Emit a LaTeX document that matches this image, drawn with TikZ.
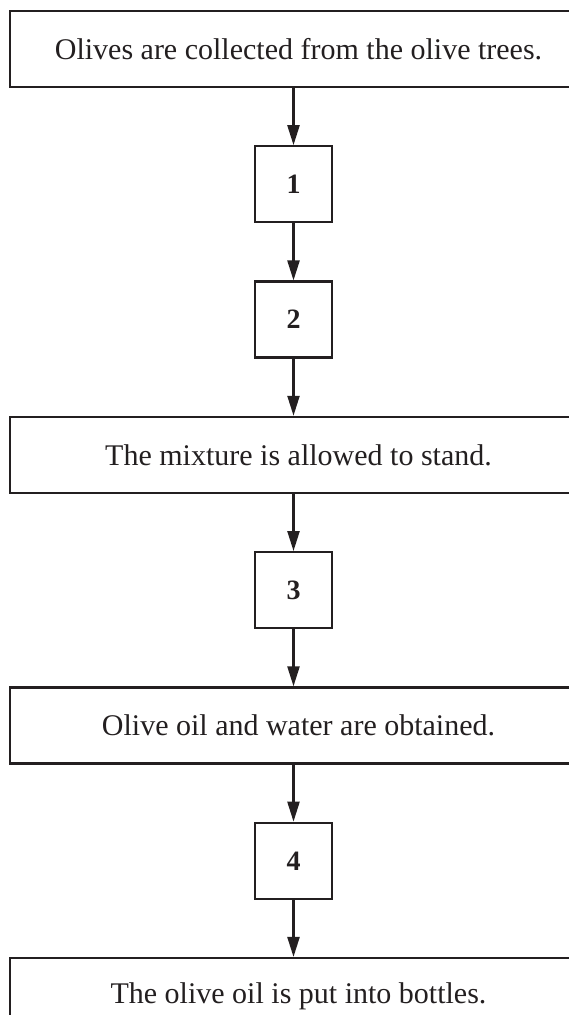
\documentclass[tikz,border=0pt]{standalone}
\usepackage{fontspec}
\setmainfont{Liberation Serif}
\usetikzlibrary{positioning,arrows.meta}
\definecolor{inkline}{RGB}{35,31,32}

\begin{document}
\begin{tikzpicture}[x=1pt, y=-1pt,
      node distance=57pt,
      stage/.style={draw=inkline, line width=2.3pt, minimum width=577pt,
        minimum height=76pt, inner sep=0pt, text=inkline,
        font=\fontsize{30}{34}\selectfont},
      numbox/.style={draw=inkline, line width=2.3pt, minimum width=77pt,
        minimum height=76pt, inner sep=0pt, text=inkline,
        font=\fontsize{28}{32}\selectfont\bfseries},
      flow/.style={-{Triangle[length=20pt, width=12pt]}, line width=2.3pt, inkline},
    ]
    \clip (0,0) rectangle (569,1015);
    \node[stage] (collect) at (298.5,49) {Olives are collected from the olive trees.};
    \node[numbox, below=of collect, xshift=-5pt] (s1) {1};
    \node[numbox, below=of s1] (s2) {2};
    \node[stage, below=of s2, xshift=5pt] (stand) {The mixture is allowed to stand.};
    \node[numbox, below=of stand, xshift=-5pt] (s3) {3};
    \node[stage, below=of s3, xshift=5pt] (obtain) {Olive oil and water are obtained.};
    \node[numbox, below=of obtain, xshift=-5pt] (s4) {4};
    \node[stage, below=of s4, xshift=5pt] (bottle) {The olive oil is put into bottles.};
    \draw[flow] (collect.south -| s1) -- (s1);
    \draw[flow] (s1) -- (s2);
    \draw[flow] (s2) -- (s2 |- stand.north);
    \draw[flow] (stand.south -| s3) -- (s3);
    \draw[flow] (s3) -- (s3 |- obtain.north);
    \draw[flow] (obtain.south -| s4) -- (s4);
    \draw[flow] (s4) -- (s4 |- bottle.north);
  \end{tikzpicture}
\end{document}
